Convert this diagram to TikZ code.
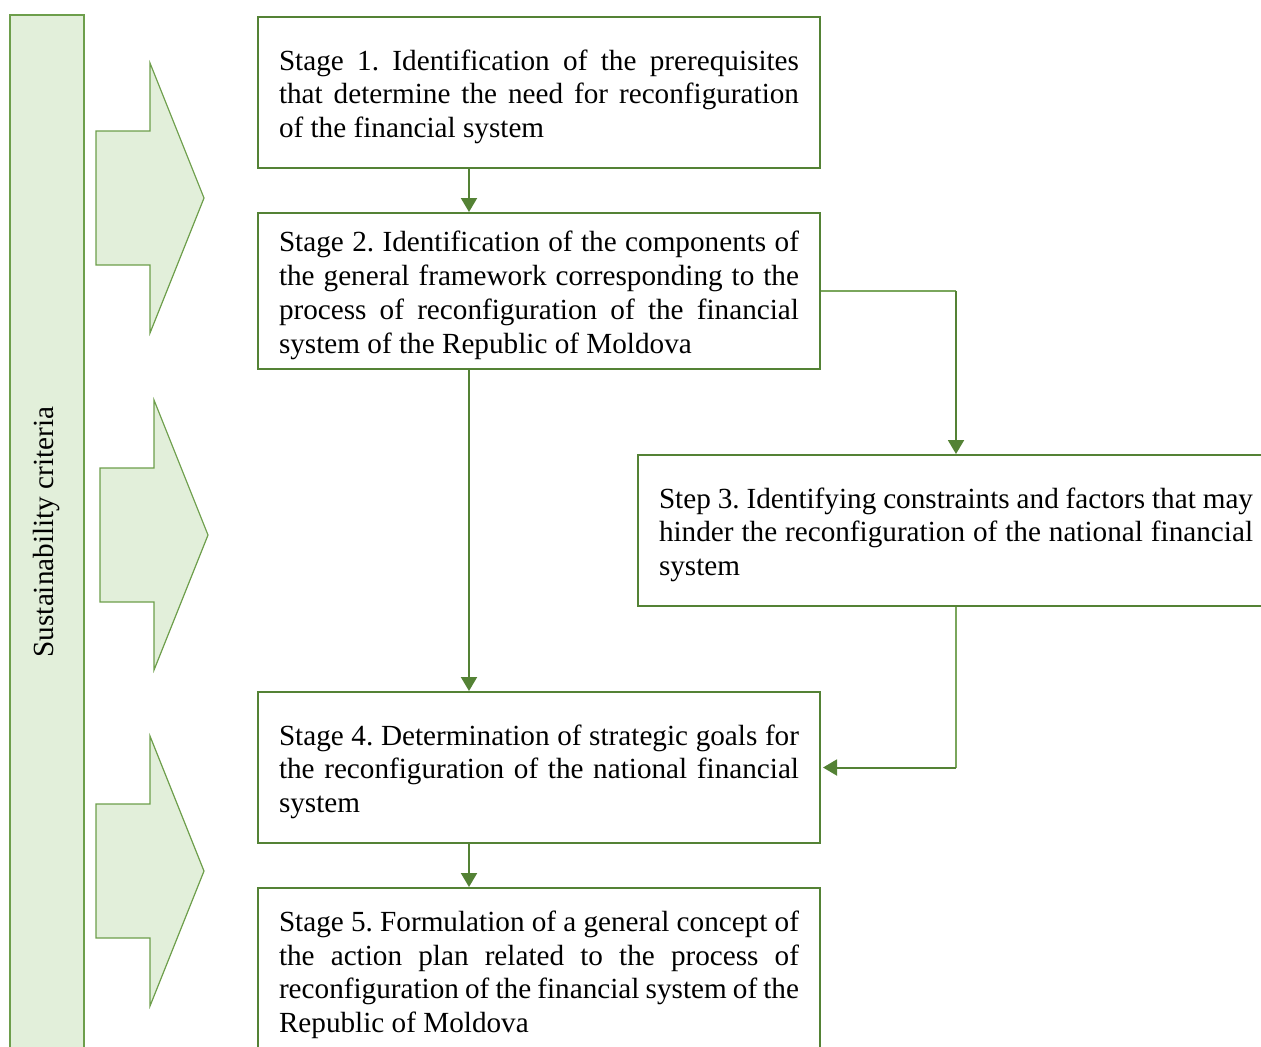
\documentclass[tikz,border=0pt]{standalone}
\usepackage{fontspec}
\setmainfont{Liberation Serif}
\usetikzlibrary{arrows.meta}
\definecolor{stagegreen}{HTML}{548235}
\definecolor{linkgreen}{HTML}{7AA65C}
\definecolor{critgreen}{HTML}{6D9E4B}
\definecolor{critfill}{HTML}{E2EFDA}
\tikzset{stage/.style = {draw=stagegreen, line width=1pt, fill=white,
                         text width=260pt, inner xsep=10.5pt, inner ysep=0pt,
                         align=justify, font=\fontsize{14.6pt}{16.9pt}\selectfont\frenchspacing,
                         execute at begin node=\rule{0pt}{14.5pt}}}
\tikzset{flow/.style = {draw=stagegreen, line width=1pt,
                        -{Triangle[width=8pt,length=7pt]}}}
\tikzset{thinflow/.style = {draw=linkgreen, line width=0.6pt}}
\tikzset{crit/.style = {draw=critgreen, fill=critfill, line width=0.6pt}}

\begin{document}
\begin{tikzpicture}[x=0.5pt, y=-0.5pt]
      \useasboundingbox (0, 0) rectangle (1261, 1046);
      \clip (0, 0) rectangle (1261, 1046);

      % criteria bar and block arrows
      \draw [crit] (10, 15) rectangle (84, 1070);
      \node (critlabel) at (47, 532) [rotate = 90, font = \fontsize{14.6pt}{16.9pt}\selectfont] {Sustainability criteria};
      \foreach \dx/\cy in {0/198, 4/535, 0/871}
        \draw [crit] (96+\dx, \cy-67) -- (150+\dx, \cy-67) -- (150+\dx, \cy-135)
                     -- (204+\dx, \cy) -- (150+\dx, \cy+135) -- (150+\dx, \cy+67)
                     -- (96+\dx, \cy+67) -- cycle;

      % stages
      \node (b1) at (539, 92.5) [stage, minimum height = 75.5pt]
        {Stage 1. Identification of the prerequisites\linebreak
         that determine the need for reconfiguration\linebreak
         of the financial system};
      \node (b2) at (539, 291) [stage, minimum height = 78pt]
        {Stage 2. Identification of the components of\linebreak
         the general framework corresponding to the\linebreak
         process of reconfiguration of the financial\linebreak
         system of the Republic of Moldova};
      \node (s3) at (956, 530.5) [stage, text width = 297pt, minimum height = 75.5pt]
        {Step 3. Identifying constraints and factors that may\linebreak
         hinder the reconfiguration of the national financial\linebreak
         system};
      \node (b4) at (539, 767.5) [stage, minimum height = 75.5pt]
        {Stage 4. Determination of strategic goals for\linebreak
         the reconfiguration of the national financial\linebreak
         system};
      \node (b5) at (539, 970.5) [stage, minimum height = 82.5pt]
        {Stage 5. Formulation of a general concept of\linebreak
         the action plan related to the process of\linebreak
         reconfiguration of the financial system of the\linebreak
         Republic of Moldova};

      % links
      \coordinate (spine) at (469, 0);
      \coordinate (c23) at (b2.east -| s3.north);
      \coordinate (c34) at (s3.south |- b4.east);
      \draw [flow] (b1.south -| spine) -- (b2.north -| spine);
      \draw [flow] (b2.south -| spine) -- (b4.north -| spine);
      \draw [thinflow] (b2.east) -- (c23);
      \draw [flow] (c23) -- (s3.north);
      \draw [thinflow] (s3.south) -- (c34);
      \draw [flow, shorten >= 1pt] (c34) -- (b4.east);
      \draw [flow] (b4.south -| spine) -- (b5.north -| spine);
    \end{tikzpicture}
\end{document}
